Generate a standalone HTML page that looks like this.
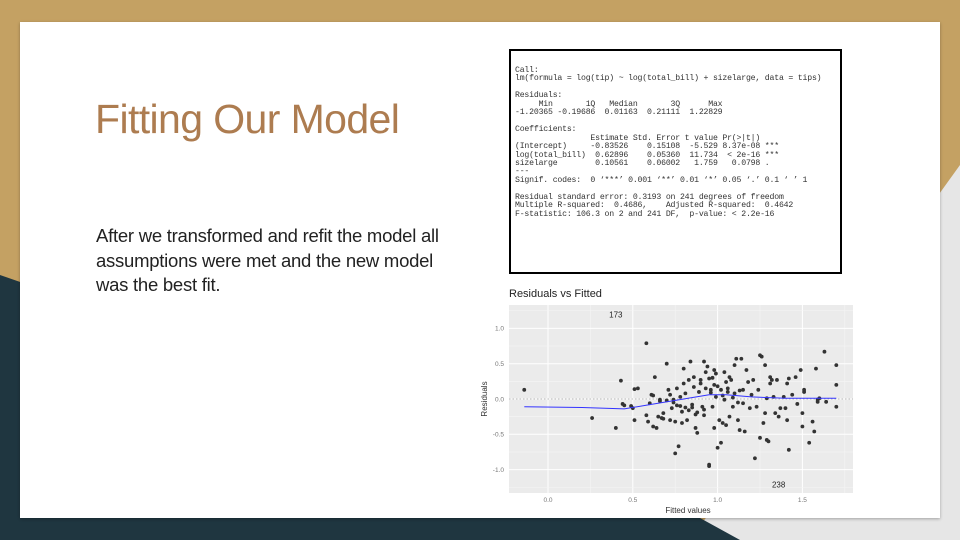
<!DOCTYPE html>
<html><head><meta charset="utf-8"><style>
body{margin:0;width:960px;height:540px;overflow:hidden;position:relative;background:#c4a163;font-family:"Liberation Sans",sans-serif}
.abs{position:absolute}
</style></head><body>
<svg class="abs" style="left:0;top:0" width="960" height="540">
<rect width="960" height="540" fill="#c4a163"/>
<polygon points="960,165 960,540 690,540" fill="#e6e6e6"/>
<polygon points="0,275 700,518 740,540 0,540" fill="#1f3640"/>
</svg>
<div class="abs" style="left:20px;top:22px;width:920px;height:496px;background:#fff;box-shadow:0 1px 3px rgba(0,0,0,0.3)"></div>
<div class="abs" style="left:95px;top:96px;font-size:41px;color:#ad7c50;letter-spacing:-0.6px">Fitting Our Model</div>
<div class="abs" style="left:96px;top:224px;white-space:nowrap;font-size:18.5px;line-height:24.5px;color:#222;letter-spacing:-0.25px">After we transformed and refit the model all<br>assumptions were met and the new model<br>was the best fit.</div>
<div class="abs" style="left:509px;top:49px;width:329px;height:221px;border:2px solid #000;background:#fff">
<pre style="margin:0;position:absolute;left:4px;top:16px;font-family:'Liberation Mono',monospace;font-size:8.2px;line-height:8.45px;color:#333;letter-spacing:-0.2px">Call:
lm(formula = log(tip) ~ log(total_bill) + sizelarge, data = tips)

Residuals:
     Min       1Q   Median       3Q      Max 
-1.20365 -0.19686  0.01163  0.21111  1.22829 

Coefficients:
                Estimate Std. Error t value Pr(&gt;|t|)    
(Intercept)     -0.83526    0.15108  -5.529 8.37e-08 ***
log(total_bill)  0.62896    0.05360  11.734  &lt; 2e-16 ***
sizelarge        0.10561    0.06002   1.759   0.0798 .  
---
Signif. codes:  0 ‘***’ 0.001 ‘**’ 0.01 ‘*’ 0.05 ‘.’ 0.1 ‘ ’ 1

Residual standard error: 0.3193 on 241 degrees of freedom
Multiple R-squared:  0.4686,	Adjusted R-squared:  0.4642 
F-statistic: 106.3 on 2 and 241 DF,  p-value: &lt; 2.2e-16</pre></div>
<svg class="abs" style="left:0;top:0" width="960" height="540" id="chart">
<text x="509" y="297" font-size="11" fill="#222">Residuals vs Fitted</text>
<rect x="509" y="305" width="344" height="188" fill="#ebebeb"/>
<g id="grid"></g><g id="ticks"></g><g id="marks"></g>
<text x="688" y="513" font-size="8" fill="#333" text-anchor="middle">Fitted values</text>
<text transform="translate(487,399) rotate(-90)" font-size="8" fill="#333" text-anchor="middle">Residuals</text>
</svg>
<script>
const xTicks=[0,0.5,1.0,1.5];
const xTickLabels=["0.0","0.5","1.0","1.5"];
const yTicks=[-1,-0.5,0,0.5,1];
const yTickLabels=["-1.0","-0.5","0.0","0.5","1.0"];
const fittedX=[-0.14,0.26,0.40,0.43,0.44,0.45,0.49,0.51,0.51,0.53,0.50,0.58,0.58,0.59,0.60,0.61,0.62,0.63,0.64,0.65,0.66,0.67,0.68,0.70,0.71,0.72,0.73,0.74,0.75,0.75,0.76,0.77,0.78,0.79,0.79,0.80,0.80,0.81,0.82,0.83,0.84,0.85,0.86,0.86,0.87,0.88,0.89,0.90,0.91,0.92,0.92,0.93,0.94,0.95,0.95,0.95,0.96,0.97,0.98,0.98,0.98,0.99,0.99,1.00,1.01,1.02,1.02,1.03,1.04,1.04,1.05,1.06,1.07,1.07,1.08,1.09,1.10,1.10,1.11,1.12,1.13,1.14,1.15,1.15,1.16,1.17,1.18,1.19,1.20,1.21,1.22,1.23,1.24,1.25,1.25,1.26,1.27,1.28,1.28,1.29,1.29,1.30,1.31,1.31,1.32,1.33,1.34,1.35,1.36,1.37,1.39,1.40,1.41,1.41,1.42,1.42,1.44,1.46,1.47,1.49,1.50,1.50,1.51,1.51,1.54,1.56,1.57,1.58,1.59,1.59,1.60,1.63,1.64,1.70,1.70,1.70,0.62,0.66,0.70,0.74,0.78,0.83,0.88,0.90,0.93,0.96,1.00,1.03,1.06,1.09,1.12,0.85,0.92,0.97,1.05,1.13,0.68,0.72,0.76,0.81,0.87];
const residY=[0.13,-0.27,-0.41,0.26,-0.07,-0.09,-0.10,-0.30,0.14,0.15,-0.13,0.79,-0.23,-0.32,-0.06,0.06,-0.39,0.31,-0.41,-0.25,-0.01,-0.27,-0.20,0.50,0.13,-0.30,-0.13,-0.01,-0.32,-0.77,0.15,-0.67,0.03,-0.18,-0.34,0.22,0.43,0.08,-0.30,0.27,0.53,-0.08,0.17,0.31,-0.41,-0.48,0.10,0.27,-0.11,0.53,-0.23,0.38,0.46,-0.93,-0.95,0.29,0.13,-0.11,-0.41,0.41,0.20,0.03,0.36,-0.69,-0.30,-0.62,0.13,-0.34,0.38,-0.01,-0.37,0.15,0.31,-0.25,0.27,-0.11,0.48,0.08,0.57,-0.30,-0.44,0.57,-0.06,0.13,-0.46,0.41,0.24,-0.13,0.06,0.27,-0.84,-0.11,0.13,0.62,-0.55,0.60,-0.34,-0.20,0.48,-0.58,0.01,-0.60,0.22,0.31,0.27,0.03,-0.20,0.27,-0.25,-0.13,0.03,-0.13,0.22,-0.30,0.29,-0.72,0.06,0.31,-0.07,0.41,-0.39,-0.20,0.13,0.10,-0.62,-0.32,-0.46,0.43,-0.01,-0.04,0.01,0.67,-0.04,0.48,0.20,-0.11,0.05,-0.03,-0.02,-0.05,-0.10,-0.16,-0.19,0.22,0.15,0.09,0.18,0.05,0.10,0.02,-0.05,-0.12,-0.15,0.30,0.24,0.12,-0.28,0.06,-0.09,-0.12,-0.22,-0.17];
const smoothX=[-0.14,0.20,0.45,0.60,0.80,0.95,1.05,1.20,1.40,1.70];
const smoothY=[-0.11,-0.12,-0.14,-0.08,0.00,0.06,0.06,0.03,0.01,0.01];
const labelText=["173","238"];const labelX=[0.40,1.36];const labelY=[1.2,-1.21];
const X0=509,X1=853,Y0=305,Y1=493;
const sx=v=>548+v*169.6, sy=v=>399-v*70.6;
const NS="http://www.w3.org/2000/svg";
function mk(t,a,p){const e=document.createElementNS(NS,t);for(const k in a)e.setAttribute(k,a[k]);p.appendChild(e);return e;}
const grid=document.getElementById('grid'),ticks=document.getElementById('ticks'),marks=document.getElementById('marks');
for(let i=0;i<xTicks.length;i++){
 const x=sx(xTicks[i]);
 const g=mk('line',{x1:x,x2:x,y1:Y0,y2:Y1,stroke:'#fff','stroke-width':1},grid);
 
 
 const mx=sx(xTicks[i]+0.25);
 if(mx<X1){const m=mk('line',{x1:mx,x2:mx,y1:Y0,y2:Y1,stroke:'#f5f5f5','stroke-width':0.6},grid);
 
 }
 const t=mk('text',{x:x,y:Y1+9,'font-size':6.5,fill:'#777','text-anchor':'middle'},ticks);t.textContent=xTickLabels[i];
 
 
}
{const mx=sx(-0.25);if(mx>X0){const m=mk('line',{x1:mx,x2:mx,y1:Y0,y2:Y1,stroke:'#f5f5f5','stroke-width':0.6},grid);
}}
for(let i=0;i<yTicks.length;i++){
 const y=sy(yTicks[i]);
 const g=mk('line',{x1:X0,x2:X1,y1:y,y2:y,stroke:'#fff','stroke-width':1},grid);
 
 
 const my=sy(yTicks[i]+0.25);
 if(my>Y0){const m=mk('line',{x1:X0,x2:X1,y1:my,y2:my,stroke:'#f5f5f5','stroke-width':0.6},grid);
 
 }
 const t=mk('text',{x:X0-5,y:y+2.3,'font-size':6.5,fill:'#777','text-anchor':'end'},ticks);t.textContent=yTickLabels[i];
 
 
}
{const my=sy(-1.25);const m=mk('line',{x1:X0,x2:X1,y1:my,y2:my,stroke:'#f5f5f5','stroke-width':0.6},grid);
}
const zl=mk('line',{x1:X0,x2:X1,y1:sy(0),y2:sy(0),stroke:'#aaa','stroke-width':0.7,'stroke-dasharray':'1.5,2'},marks);


for(let i=0;i<fittedX.length;i++){
 const c=mk('circle',{cx:sx(fittedX[i]),cy:sy(residY[i]),r:1.9,fill:'#333'},marks);
 
 
}
let d='';for(let i=0;i<smoothX.length;i++)d+=(i?'L':'M')+sx(smoothX[i]).toFixed(1)+','+sy(smoothY[i]).toFixed(1);
const sl=mk('path',{d:d,fill:'none',stroke:'#3333ff','stroke-width':1},marks);


for(let i=0;i<labelText.length;i++){
 const t=mk('text',{x:sx(labelX[i]),y:sy(labelY[i])+3,'font-size':8,fill:'#222','text-anchor':'middle'},marks);t.textContent=labelText[i];
 
 
}
</script>
</body></html>
